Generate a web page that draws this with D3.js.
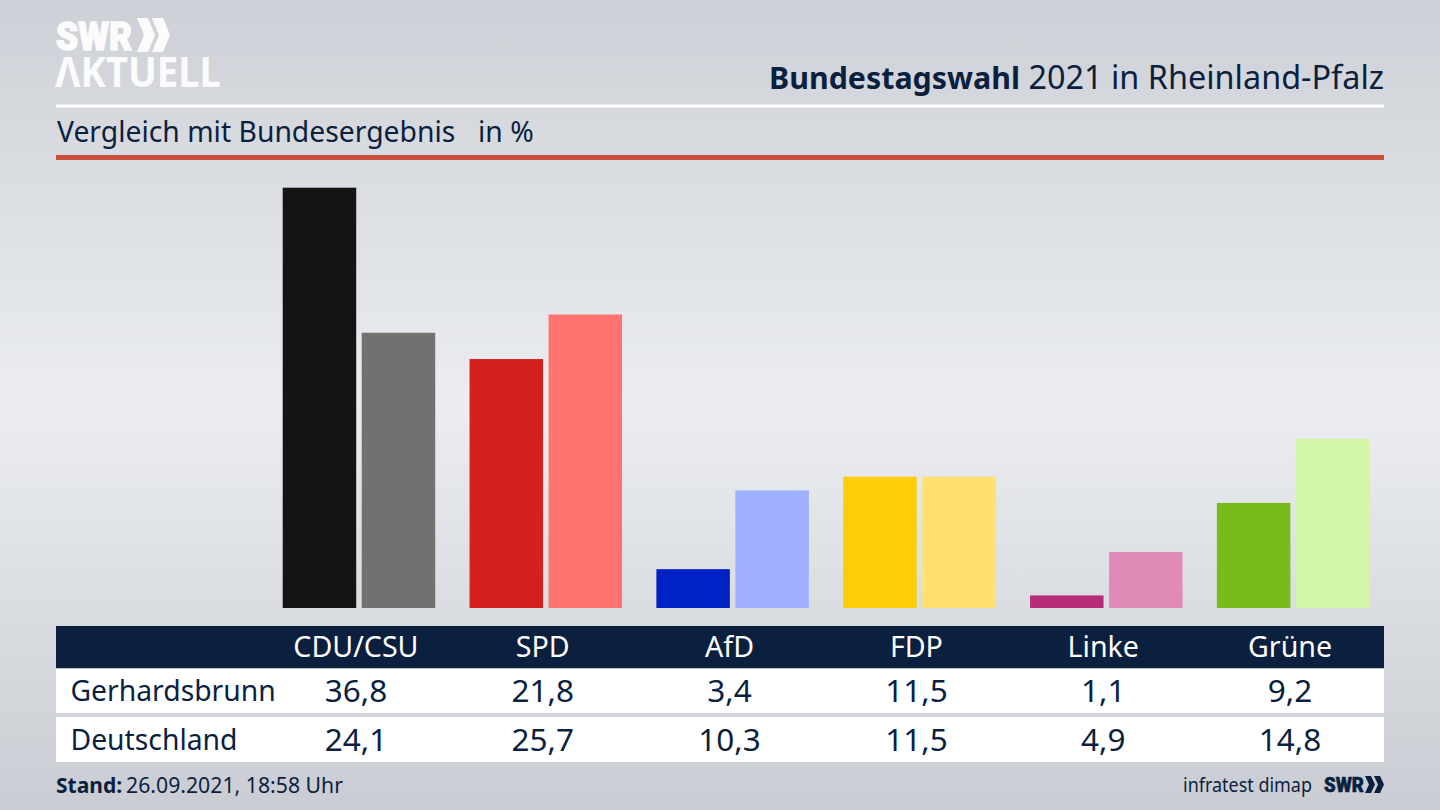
<!DOCTYPE html>
<html><head><meta charset="utf-8">
<script src="https://cdn.jsdelivr.net/npm/d3@7/dist/d3.min.js"></script>
<style>html,body{margin:0;padding:0;overflow:hidden;background:#d0d3d9}svg{display:block}text{font-family:"Noto Sans",sans-serif}</style>
</head><body><svg id="c" width="1440" height="810"></svg>
<script>
const parties=["CDU/CSU","SPD","AfD","FDP","Linke","Grüne"];
const regionName="Gerhardsbrunn";
const nationName="Deutschland";
const regionValues=[36.8,21.8,3.4,11.5,1.1,9.2];
const nationValues=[24.1,25.7,10.3,11.5,4.9,14.8];
const regionColors=["#141414","#d61f1f","#0021c4","#ffcc0a","#b82c78","#78bc1c"];
const nationColors=["#72716f","#ff7370","#9fb0ff","#ffe070","#e08ab8","#d3f6a6"];
const title=["Bundestagswahl","2021 in Rheinland-Pfalz"];
const subtitle=["Vergleich mit Bundesergebnis","in %"];
const stand=["Stand:","26.09.2021, 18:58 Uhr"];
const source="infratest dimap";

const NAVY="#0b1f3f";
const fmt=v=>d3.format(".1f")(v).replace(".",",");
const svg=d3.select("#c");
const defs=svg.append("defs");
const g=defs.append("linearGradient").attr("id","bg").attr("x1",0).attr("x2",0).attr("y1",0).attr("y2",1);
[[0,"#cdd0d6"],[.5,"#ebedf1"],[1,"#c9ccd2"]].forEach(s=>g.append("stop").attr("offset",s[0]).attr("stop-color",s[1]));
svg.append("rect").attr("width",1440).attr("height",810).attr("fill","url(#bg)");

const x=d3.scaleBand().domain(parties).range([262.5,1383.5]).paddingInner(0).paddingOuter(0);
const y=d3.scaleLinear().domain([0,36.8]).range([608,187.7]);
const barW=73.5, gap=5.5;
const cx=p=>x(p)+x.bandwidth()/2;
const barsG=svg.append("g");
barsG.selectAll(".a").data(parties).join("rect").attr("class","a")
  .attr("x",p=>cx(p)-barW+.3).attr("width",barW)
  .attr("y",(p,i)=>y(regionValues[i])).attr("height",(p,i)=>y(0)-y(regionValues[i]))
  .attr("fill",(p,i)=>regionColors[i]);
barsG.selectAll(".b").data(parties).join("rect").attr("class","b")
  .attr("x",p=>cx(p)+gap+.3).attr("width",barW)
  .attr("y",(p,i)=>y(nationValues[i])).attr("height",(p,i)=>y(0)-y(nationValues[i]))
  .attr("fill",(p,i)=>nationColors[i]);

// header rules
svg.append("rect").attr("x",56).attr("y",104.5).attr("width",1328).attr("height",3).attr("fill","#fff");
svg.append("rect").attr("x",56).attr("y",155).attr("width",1328).attr("height",5).attr("fill","#c8503c");
svg.append("text").attr("x",769).attr("y",89).attr("font-size",30.5).attr("font-weight",700).attr("fill",NAVY).attr("textLength",251).attr("lengthAdjust","spacingAndGlyphs").text(title[0]);
svg.append("text").attr("x",1384).attr("y",89).attr("text-anchor","end").attr("font-size",32.4).attr("fill",NAVY).text(title[1]);
svg.append("text").attr("x",57).attr("y",142).attr("font-size",28.3).attr("fill",NAVY).text(subtitle[0]);
svg.append("text").attr("x",478).attr("y",142).attr("font-size",28.3).attr("fill",NAVY).text(subtitle[1]);

// logo
const logo=svg.append("g").attr("fill","#fbfbfc");
logo.append("text").attr("x",56).attr("y",50).attr("font-size",38).attr("font-weight",900).attr("stroke","#fbfbfc").attr("stroke-width",1.4).style("font-family","Roboto,'Noto Sans',sans-serif").attr("textLength",76).attr("lengthAdjust","spacingAndGlyphs").text("SWR");
logo.append("text").attr("x",55).attr("y",87).attr("font-size",41).attr("font-weight",700).attr("textLength",166).attr("lengthAdjust","spacingAndGlyphs").text("ΛKTUELL");
const chev=(X,Y,w,h,t)=>`M${X},${Y}h${t}l${w-t},${h/2}l${-(w-t)},${h/2}h${-t}l${w-t},${-h/2}z`;
logo.append("path").attr("d",chev(137,18,18,34,11));
logo.append("path").attr("d",chev(152,18,18,34,11));

// table
svg.append("rect").attr("x",56).attr("y",626).attr("width",1328).attr("height",42.5).attr("fill",NAVY);
svg.append("rect").attr("x",56).attr("y",668.5).attr("width",1328).attr("height",44.5).attr("fill","#fff");
svg.append("rect").attr("x",56).attr("y",717).attr("width",1328).attr("height",45).attr("fill","#fff");
svg.selectAll(".h").data(parties).join("text").attr("class","h").attr("x",p=>cx(p)).attr("y",656.5).attr("text-anchor","middle").attr("font-size",28.6).attr("fill","#fff").text(p=>p);
svg.selectAll(".r").data(regionValues).join("text").attr("class","r").attr("x",(v,i)=>cx(parties[i])).attr("y",702).attr("text-anchor","middle").attr("font-size",31.5).attr("fill",NAVY).text(fmt);
svg.selectAll(".n").data(nationValues).join("text").attr("class","n").attr("x",(v,i)=>cx(parties[i])).attr("y",750.5).attr("text-anchor","middle").attr("font-size",31.5).attr("fill",NAVY).text(fmt);
svg.append("text").attr("x",70.5).attr("y",701).attr("font-size",28.3).attr("fill",NAVY).text(regionName);
svg.append("text").attr("x",70.5).attr("y",749.5).attr("font-size",28.3).attr("fill",NAVY).text(nationName);

// footer
svg.append("text").attr("x",56).attr("y",793).attr("font-size",21).attr("font-weight",700).attr("fill",NAVY).text(stand[0]);
svg.append("text").attr("x",126).attr("y",793).attr("font-size",21.2).attr("fill",NAVY).attr("textLength",217).attr("lengthAdjust","spacingAndGlyphs").text(stand[1]);
svg.append("text").attr("x",1183).attr("y",792).attr("font-size",19.5).attr("fill",NAVY).attr("textLength",129).attr("lengthAdjust","spacingAndGlyphs").text(source);
svg.append("text").attr("x",1324).attr("y",792).attr("font-size",20.5).attr("font-weight",900).attr("stroke",NAVY).attr("stroke-width",.6).attr("fill",NAVY).style("font-family","Roboto,'Noto Sans',sans-serif").attr("textLength",40).attr("lengthAdjust","spacingAndGlyphs").text("SWR");
svg.append("path").attr("fill",NAVY).attr("d",chev(1365,776,10,17,6));
svg.append("path").attr("fill",NAVY).attr("d",chev(1374,776,10,17,6));
</script></body></html>
